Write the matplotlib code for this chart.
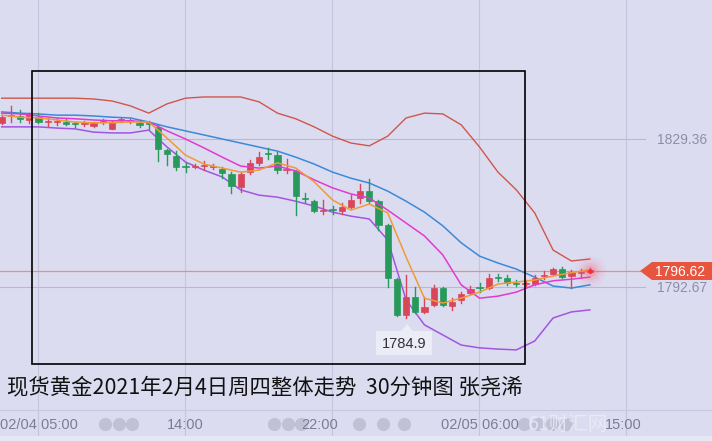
import numpy as np
import matplotlib.pyplot as plt
from matplotlib.patches import Rectangle, Polygon

plt.rcParams['font.family'] = ['Noto Sans CJK SC', 'DejaVu Sans']

# 30分钟K线 (开 收 高 低)
opens = [1833.3, 1835.0, 1835.0, 1834.0, 1834.7, 1833.4, 1833.5, 1833.5, 1833.0, 1832.9,
         1832.5, 1833.4, 1831.8, 1833.9, 1833.8, 1833.3, 1833.0, 1832.3, 1826.6, 1825.1,
         1822.5, 1822.4, 1822.7, 1822.4, 1821.9, 1820.6, 1817.4, 1821.1, 1823.4, 1825.7,
         1825.3, 1821.7, 1821.4, 1814.6, 1813.9, 1811.5, 1811.8, 1811.5, 1812.5, 1814.7,
         1816.4, 1813.9, 1808.0, 1794.6, 1785.7, 1790.2, 1786.5, 1788.2, 1792.4, 1788.0,
         1789.5, 1791.2, 1792.4, 1792.4, 1794.9, 1794.9, 1793.7, 1793.5, 1793.4, 1795.5,
         1795.9, 1797.1, 1795.4, 1796.1, 1796.5]
closes = [1834.7, 1835.2, 1834.2, 1835.5, 1833.5, 1833.5, 1833.6, 1833.0, 1832.9, 1833.0,
          1833.3, 1833.5, 1833.5, 1834.0, 1833.8, 1832.8, 1832.9, 1826.8, 1825.6, 1822.4,
          1822.4, 1822.6, 1822.9, 1822.4, 1820.9, 1817.7, 1820.6, 1823.4, 1824.9, 1825.6,
          1821.6, 1821.9, 1815.2, 1814.4, 1811.5, 1811.6, 1811.7, 1812.5, 1814.2, 1816.4,
          1813.9, 1808.0, 1794.9, 1785.7, 1790.2, 1786.5, 1787.7, 1792.4, 1788.2, 1789.0,
          1790.9, 1792.2, 1792.3, 1794.9, 1794.8, 1793.7, 1793.5, 1793.7, 1794.9, 1795.6,
          1797.1, 1795.1, 1796.4, 1796.2, 1796.62]
highs = [1835.2, 1837.5, 1836.5, 1835.7, 1835.7, 1834.5, 1834.5, 1834.3, 1833.5, 1833.8,
         1833.5, 1834.3, 1833.8, 1834.5, 1834.3, 1834.0, 1833.8, 1832.8, 1826.8, 1826.3,
         1823.4, 1823.1, 1823.9, 1823.1, 1822.4, 1821.1, 1821.1, 1824.1, 1826.1, 1827.1,
         1826.1, 1824.3, 1821.6, 1815.9, 1814.2, 1814.2, 1812.7, 1813.5, 1815.4, 1818.2,
         1819.4, 1814.2, 1808.3, 1794.9, 1795.6, 1792.7, 1790.2, 1793.2, 1792.7, 1789.9,
         1791.4, 1792.9, 1793.7, 1795.9, 1795.9, 1795.6, 1794.4, 1794.4, 1795.6, 1796.6,
         1797.4, 1797.6, 1796.9, 1797.1, 1797.4]
lows = [1833.0, 1833.5, 1833.5, 1833.3, 1833.3, 1832.5, 1832.8, 1832.8, 1832.3, 1832.5,
        1832.3, 1833.0, 1831.8, 1833.5, 1833.3, 1832.3, 1831.8, 1823.9, 1822.9, 1821.6,
        1821.1, 1822.1, 1821.6, 1821.9, 1819.6, 1815.9, 1816.2, 1820.6, 1822.9, 1824.3,
        1820.9, 1820.9, 1810.5, 1813.7, 1811.2, 1810.7, 1810.7, 1810.7, 1812.2, 1813.5,
        1813.5, 1806.8, 1792.7, 1785.5, 1784.9, 1786.2, 1786.2, 1788.0, 1788.0, 1787.0,
        1788.7, 1790.9, 1791.4, 1792.2, 1794.2, 1793.2, 1792.9, 1792.9, 1793.2, 1794.6,
        1795.6, 1794.9, 1792.4, 1795.1, 1796.1]

# 指标线 (每两根K线读一个点)
line_idx = np.arange(0, 65, 2)
boll_up = [1839.4, 1839.4, 1839.4, 1839.4, 1839.4, 1839.2, 1838.7, 1837.5, 1835.7, 1838.0,
           1839.4, 1839.7, 1839.7, 1839.7, 1838.5, 1835.7, 1834.3, 1832.3, 1830.0, 1828.3,
           1827.6, 1830.0, 1834.5, 1835.7, 1835.5, 1832.8, 1827.3, 1821.1, 1816.7, 1811.0,
           1801.8, 1799.1, 1799.6]
boll_mid = [1836.0, 1835.7, 1835.5, 1835.2, 1835.2, 1835.0, 1834.7, 1834.5, 1833.5, 1832.3,
            1831.3, 1830.3, 1829.3, 1828.3, 1827.3, 1826.3, 1824.8, 1823.1, 1821.1, 1819.6,
            1818.4, 1816.4, 1813.9, 1811.2, 1807.8, 1803.6, 1800.3, 1798.6, 1797.1, 1795.1,
            1792.9, 1792.4, 1793.2]
boll_low = [1832.3, 1832.3, 1832.3, 1832.0, 1831.8, 1831.0, 1830.8, 1830.8, 1831.5, 1827.3,
            1823.6, 1821.6, 1819.9, 1816.7, 1815.4, 1814.9, 1813.9, 1812.7, 1811.2, 1810.2,
            1809.5, 1804.3, 1789.5, 1783.3, 1780.8, 1778.3, 1777.6, 1777.3, 1777.1, 1779.3,
            1785.0, 1786.5, 1787.0]
ma_fast = [1835.2, 1834.7, 1834.5, 1834.0, 1833.5, 1833.3, 1833.3, 1833.5, 1833.5, 1829.5,
           1825.3, 1823.1, 1822.1, 1821.1, 1821.6, 1823.4, 1822.1, 1818.7, 1814.2, 1811.7,
           1813.2, 1811.0, 1800.1, 1789.9, 1788.7, 1789.9, 1791.4, 1793.4, 1793.9, 1794.4,
           1795.4, 1796.2, 1796.9]
ma_slow = [1835.7, 1835.5, 1835.0, 1834.5, 1834.3, 1834.0, 1833.8, 1833.8, 1833.5, 1831.3,
           1829.3, 1827.1, 1824.8, 1822.6, 1822.1, 1822.6, 1821.4, 1819.2, 1817.2, 1815.7,
           1814.7, 1811.7, 1808.5, 1805.3, 1800.6, 1793.2, 1789.9, 1790.4, 1791.4, 1793.2,
           1794.2, 1794.6, 1795.1]

last_price = 1796.62
high_line = 1829.36
low_line = 1792.67
min_low = 1784.9
time_labels = ['02/04 05:00', '14:00', '22:00', '02/05 06:00', '15:00']
time_pos = [4, 20, 34.6, 52, 67.6]
title = '现货黄金2021年2月4日周四整体走势  30分钟图 张尧浠'

bg = '#dcdcf1'
up_c = '#d8465a'
dn_c = '#27995a'

fig = plt.figure(figsize=(7.12, 4.41), dpi=100)
fig.patch.set_facecolor(bg)
ax = fig.add_axes([0, 0, 1, 1])
ax.set_facecolor(bg)
ax.set_xlim(-0.185, 77.29)
ax.set_ylim(1754.55, 1863.7)
ax.axis('off')

# 竖网格
for g in [4, 20, 36, 52, 68]:
    ax.axvline(g - 0.1, color='#c4c4dc', lw=0.8, zorder=0)
ax.plot([-1, 70], [high_line, high_line], color='#b8b8d0', lw=0.8, zorder=1)
ax.plot([-1, 70], [low_line, low_line], color='#b8b8d0', lw=0.8, zorder=1)
ax.plot([-1, 69.5], [last_price, last_price], color='#e89080', lw=0.9, zorder=1)

# 布林带和均线
ax.plot(line_idx, boll_up, color='#d0564c', lw=1.0, zorder=2)
ax.plot(line_idx, boll_mid, color='#3a8ad8', lw=1.1, zorder=2)
ax.plot(line_idx, boll_low, color='#a155e0', lw=1.1, zorder=2)

# K线
w = 0.68
for i in range(len(opens)):
    o, c, h, l = opens[i], closes[i], highs[i], lows[i]
    col = up_c if c >= o else dn_c
    ax.plot([i, i], [l, h], color=col, lw=1.0, zorder=3)
    bottom = min(o, c)
    height = max(abs(c - o), 0.25)
    ax.add_patch(Rectangle((i - w / 2, bottom), w, height, facecolor=col,
                           edgecolor=col, lw=0.5, zorder=4))

ax.plot(line_idx, ma_slow, color='#e23ad0', lw=1.1, zorder=5)
ax.plot(line_idx, ma_fast, color='#f09a35', lw=1.1, zorder=5)

# 最新价光点
for s, a in [(500, 0.06), (300, 0.08), (160, 0.12), (70, 0.2)]:
    ax.scatter([64], [last_price], s=s, color='#ff5a6a', alpha=a, lw=0, zorder=6)
ax.scatter([64], [last_price], s=12, color='#f03040', lw=0, zorder=7)

# 像素坐标覆盖层
ov = fig.add_axes([0, 0, 1, 1])
ov.set_xlim(0, 712)
ov.set_ylim(441, 0)
ov.axis('off')
ov.patch.set_alpha(0)

ov.add_patch(Polygon([[640, 271], [652, 262], [712, 262], [712, 280], [652, 280]],
                     closed=True, facecolor='#e8553f', edgecolor='none', zorder=5))
ov.text(680, 271.5, '%.2f' % last_price, color='white', fontsize=10,
        family='Liberation Sans', ha='center', va='center', zorder=6)
ov.text(682, 140, '%.2f' % high_line, color='#8e8ea8', fontsize=10,
        family='Liberation Sans', ha='center', va='center')
ov.text(682, 288, '%.2f' % low_line, color='#8e8ea8', fontsize=10,
        family='Liberation Sans', ha='center', va='center')

# 最低价标签
ov.add_patch(Rectangle((376, 331), 56, 24, facecolor='#ececf6', edgecolor='none', zorder=5))
ov.add_patch(Polygon([[401, 331], [407, 324], [413, 331]], facecolor='#ececf6',
                     edgecolor='none', zorder=5))
ov.text(404, 344, '%.1f' % min_low, color='#303040', fontsize=10.5,
        family='Liberation Sans', ha='center', va='center', zorder=6)

# 方框
ov.add_patch(Rectangle((32, 70.5), 493, 293, facecolor='none', edgecolor='black',
                       lw=1.2, zorder=8))

ov.text(7, 387, title, fontsize=15.4, color='#111111', ha='left', va='center', zorder=8)

# 时间轴
ov.plot([0, 712], [410, 410], color='#c8c8de', lw=0.8)
ov.add_patch(Rectangle((0, 436), 712, 5, facecolor='#e6e6f4', edgecolor='none'))
for lab, p in zip(time_labels, time_pos):
    xp = 1.7 + p * 9.19
    ov.text(xp, 425, lab, color='#7c7c94', fontsize=10.5, family='Liberation Sans',
            ha='center', va='center')
for xd in [105, 119, 132, 274, 288, 301, 359, 383, 404, 524, 538, 552, 566]:
    ov.scatter([xd], [424], s=90, color='#9090a4', alpha=0.35, lw=0)
ov.text(568, 424, '61财汇网', fontsize=14, color='#ececf8', ha='center', va='center',
        alpha=0.8)

fig.savefig('out.png', dpi=100, facecolor=bg)
